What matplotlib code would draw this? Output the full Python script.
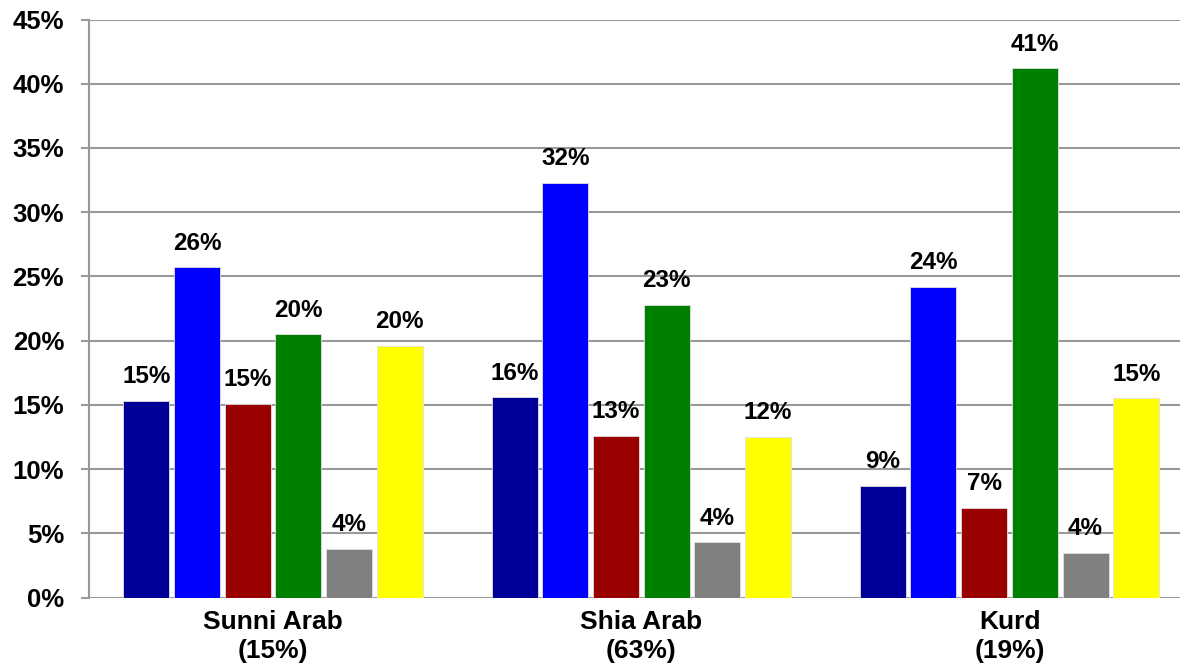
import matplotlib
matplotlib.use('Agg')
import matplotlib.pyplot as plt
import numpy as np

# Dane
grupy = ['Sunni Arab\n(15%)', 'Shia Arab\n(63%)', 'Kurd\n(19%)']
sunni = [15.3, 25.7, 15.1, 20.5, 3.8, 19.6]
shia = [15.6, 32.3, 12.6, 22.8, 4.3, 12.5]
kurd = [8.7, 24.2, 7.0, 41.2, 3.5, 15.5]
etykiety = [['15%', '26%', '15%', '20%', '4%', '20%'],
            ['16%', '32%', '13%', '23%', '4%', '12%'],
            ['9%', '24%', '7%', '41%', '4%', '15%']]
kolory = ['#000099', '#0000FF', '#990000', '#008000', '#808080', '#FFFF00']

plt.rcParams['font.family'] = ['Liberation Sans', 'DejaVu Sans']
plt.rcParams['font.weight'] = 'bold'

fig = plt.figure(figsize=(11.8, 6.67), dpi=100)
ax = fig.add_axes([89/1180, 1 - 597.5/667, 1 - 89/1180, (597.5 - 19.5)/667])

wartosci = np.array([sunni, shia, kurd])
x = np.arange(len(grupy))
krok = 0.1377
szer = 0.125
for i in range(6):
    pozycje = x + (i - 2.5) * krok
    slupki = ax.bar(pozycje, wartosci[:, i], width=szer, color=kolory[i],
                    edgecolor='#e0e0e0', linewidth=0.6, zorder=3)
    for j, s in enumerate(slupki):
        ax.annotate(etykiety[j][i], (s.get_x() + s.get_width()/2, s.get_height()),
                    xytext=(0, 9), textcoords='offset points',
                    ha='center', va='bottom', fontsize=17.5, fontweight='bold')

ax.set_ylim(0, 45)
ax.set_xlim(-0.5, 2.463)
ax.set_yticks(np.arange(0, 46, 5))
ax.set_yticklabels([f'{v}%' for v in range(0, 46, 5)], fontsize=18.5, fontweight='bold')
ax.set_xticks(x)
ax.set_xticklabels(grupy, fontsize=19, fontweight='bold', linespacing=1.27)
ax.tick_params(axis='x', length=0, pad=9)
ax.tick_params(axis='y', length=6, width=1.5, color='#999999', pad=12)

ax.grid(axis='y', color='#999999', linewidth=1.5, zorder=0)
ax.set_axisbelow(True)
for k in ['top', 'right', 'bottom']:
    ax.spines[k].set_visible(False)
ax.spines['left'].set_color('#999999')
ax.spines['left'].set_linewidth(1.5)

plt.savefig('out.png', dpi=100)
